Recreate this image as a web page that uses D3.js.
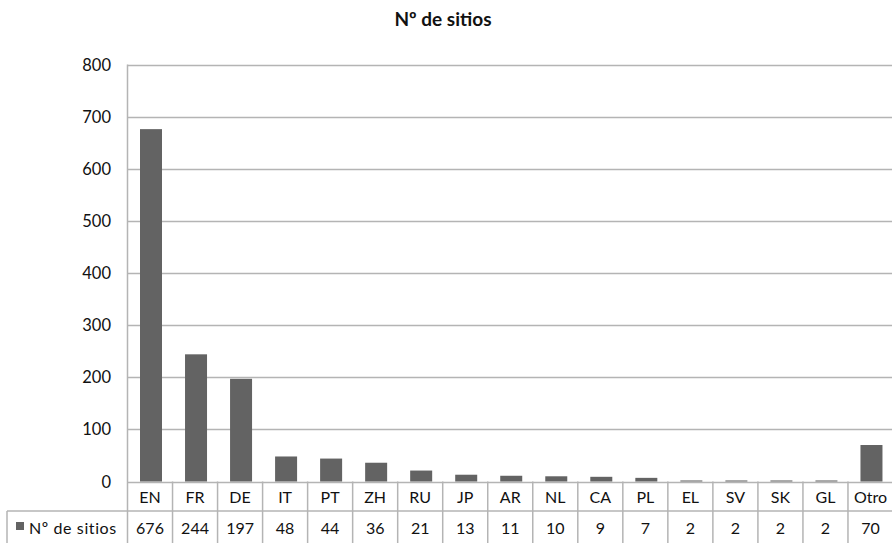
<!DOCTYPE html>
<html>
<head>
<meta charset="utf-8">
<script src="https://cdn.jsdelivr.net/npm/d3@7"></script>
<style>
  body { margin: 0; background: #fff; }
  text { font-family: Lato, "Open Sans", sans-serif; fill: #111; }
</style>
</head>
<body>
<svg width="892" height="543"></svg>
<script>
/* Chart data */
var categories = ['EN', 'FR', 'DE', 'IT', 'PT', 'ZH', 'RU', 'JP', 'AR', 'NL', 'CA', 'PL', 'EL', 'SV', 'SK', 'GL', 'Otro'];
var values = [676, 244, 197, 48, 44, 36, 21, 13, 11, 10, 9, 7, 2, 2, 2, 2, 70];
var yTicks = [0, 100, 200, 300, 400, 500, 600, 700, 800];
var seriesName = 'Nº de sitios';

var svg = d3.select('svg');
var plotLeft = 127.5, plotRight = 893, plotTop = 64.5, plotBottom = 481.5;
var row1 = 511, row2 = 545, legendLeft = 7;

var x = d3.scaleBand().domain(categories).range([plotLeft, plotRight]);
var y = d3.scaleLinear().domain([0, 800]).range([plotBottom, plotTop]);

var grid = '#b4b4b4';

// title
svg.append('text')
    .attr('x', 443).attr('y', 26)
    .attr('text-anchor', 'middle')
    .style('font-weight', 'bold')
    .style('font-size', '19px')
    .text(seriesName);

// gridlines
svg.append('g').selectAll('line')
    .data(yTicks)
  .enter().append('line')
    .attr('x1', plotLeft).attr('x2', plotRight)
    .attr('y1', function(d) { return Math.round(y(d)) + 0.5; })
    .attr('y2', function(d) { return Math.round(y(d)) + 0.5; })
    .attr('stroke', grid)
    .attr('stroke-width', 1.5);

// y axis labels
svg.append('g').selectAll('text')
    .data(yTicks)
  .enter().append('text')
    .attr('x', 111)
    .attr('y', function(d) { return y(d) + 6; })
    .attr('text-anchor', 'end')
    .style('font-size', '16.5px')
    .text(function(d) { return d; });

// bars
svg.append('g').selectAll('rect')
    .data(values)
  .enter().append('rect')
    .attr('x', function(d, i) { return x(categories[i]) + 12.5; })
    .attr('width', 22)
    .attr('y', function(d) { return y(d); })
    .attr('height', function(d) { return plotBottom - y(d); })
    .attr('fill', '#636363');

// table lines
var lines = svg.append('g').attr('stroke', grid).attr('stroke-width', 1.5);
lines.append('line').attr('x1', plotLeft).attr('x2', plotLeft).attr('y1', plotTop).attr('y2', row2);
lines.append('line').attr('x1', legendLeft).attr('x2', plotRight).attr('y1', row1).attr('y2', row1);
lines.append('line').attr('x1', legendLeft).attr('x2', legendLeft).attr('y1', row1).attr('y2', row2);
lines.selectAll('.sep')
    .data(categories.slice(1))
  .enter().append('line')
    .attr('class', 'sep')
    .attr('x1', function(d) { return x(d); })
    .attr('x2', function(d) { return x(d); })
    .attr('y1', plotBottom).attr('y2', row2);

// category labels
svg.append('g').selectAll('text')
    .data(categories)
  .enter().append('text')
    .attr('x', function(d) { return x(d) + x.bandwidth() / 2; })
    .attr('y', 503)
    .attr('text-anchor', 'middle')
    .style('font-size', '16px')
    .text(function(d) { return d; });

// value row
svg.append('g').selectAll('text')
    .data(values)
  .enter().append('text')
    .attr('x', function(d, i) { return x(categories[i]) + x.bandwidth() / 2; })
    .attr('y', 534)
    .attr('text-anchor', 'middle')
    .style('font-size', '16px')
    .text(function(d) { return d; });

// legend key
svg.append('rect')
    .attr('x', 16).attr('y', 522).attr('width', 8).attr('height', 8)
    .attr('fill', '#636363');
svg.append('text')
    .attr('x', 29).attr('y', 534)
    .style('font-size', '16px')
    .style('letter-spacing', '0.6px')
    .text(seriesName);
</script>
</body>
</html>
